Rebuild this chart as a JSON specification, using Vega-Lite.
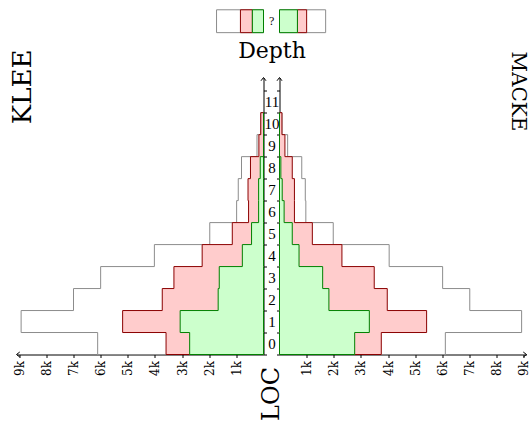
{
  "$schema": "https://vega.github.io/schema/vega-lite/v6.json",
  "background": "white",
  "padding": {"left": 9.5, "top": 8.5, "right": 0, "bottom": 0},
  "config": {
    "view": {"stroke": null},
    "axis": {"zindex": 1, "grid": false, "domainColor": "black", "tickColor": "black", "labelColor": "black", "titleColor": "black", "labelFont": "DejaVu Serif", "titleFont": "DejaVu Serif", "titleFontWeight": "normal", "domainWidth": 1, "tickWidth": 1, "labelFlush": false, "labelOverlap": false}
  },
  "datasets": {
    "loc": [
      {"tool":"KLEE","series":"total","depth":0,"loc":6110},{"tool":"KLEE","series":"total","depth":1,"loc":8930},{"tool":"KLEE","series":"total","depth":2,"loc":7000},{"tool":"KLEE","series":"total","depth":3,"loc":6000},{"tool":"KLEE","series":"total","depth":4,"loc":4020},{"tool":"KLEE","series":"total","depth":5,"loc":1980},{"tool":"KLEE","series":"total","depth":6,"loc":990},{"tool":"KLEE","series":"total","depth":7,"loc":930},{"tool":"KLEE","series":"total","depth":8,"loc":810},{"tool":"KLEE","series":"total","depth":9,"loc":240},{"tool":"KLEE","series":"total","depth":10,"loc":100},{"tool":"KLEE","series":"total","depth":11,"loc":0},
      {"tool":"KLEE","series":"part","depth":0,"loc":3590},{"tool":"KLEE","series":"part","depth":1,"loc":5190},{"tool":"KLEE","series":"part","depth":2,"loc":3730},{"tool":"KLEE","series":"part","depth":3,"loc":3300},{"tool":"KLEE","series":"part","depth":4,"loc":2260},{"tool":"KLEE","series":"part","depth":5,"loc":1150},{"tool":"KLEE","series":"part","depth":6,"loc":550},{"tool":"KLEE","series":"part","depth":7,"loc":570},{"tool":"KLEE","series":"part","depth":8,"loc":480},{"tool":"KLEE","series":"part","depth":9,"loc":170},{"tool":"KLEE","series":"part","depth":10,"loc":100},{"tool":"KLEE","series":"part","depth":11,"loc":0},
      {"tool":"KLEE","series":"core","depth":0,"loc":2720},{"tool":"KLEE","series":"core","depth":1,"loc":3070},{"tool":"KLEE","series":"core","depth":2,"loc":1670},{"tool":"KLEE","series":"core","depth":3,"loc":1630},{"tool":"KLEE","series":"core","depth":4,"loc":780},{"tool":"KLEE","series":"core","depth":5,"loc":440},{"tool":"KLEE","series":"core","depth":6,"loc":180},{"tool":"KLEE","series":"core","depth":7,"loc":180},{"tool":"KLEE","series":"core","depth":8,"loc":120},{"tool":"KLEE","series":"core","depth":9,"loc":0},{"tool":"KLEE","series":"core","depth":10,"loc":0},{"tool":"KLEE","series":"core","depth":11,"loc":0},
      {"tool":"MACKE","series":"total","depth":0,"loc":6110},{"tool":"MACKE","series":"total","depth":1,"loc":8920},{"tool":"MACKE","series":"total","depth":2,"loc":7010},{"tool":"MACKE","series":"total","depth":3,"loc":6010},{"tool":"MACKE","series":"total","depth":4,"loc":4040},{"tool":"MACKE","series":"total","depth":5,"loc":1980},{"tool":"MACKE","series":"total","depth":6,"loc":970},{"tool":"MACKE","series":"total","depth":7,"loc":950},{"tool":"MACKE","series":"total","depth":8,"loc":820},{"tool":"MACKE","series":"total","depth":9,"loc":300},{"tool":"MACKE","series":"total","depth":10,"loc":90},{"tool":"MACKE","series":"total","depth":11,"loc":0},
      {"tool":"MACKE","series":"part","depth":0,"loc":3750},{"tool":"MACKE","series":"part","depth":1,"loc":5420},{"tool":"MACKE","series":"part","depth":2,"loc":3970},{"tool":"MACKE","series":"part","depth":3,"loc":3490},{"tool":"MACKE","series":"part","depth":4,"loc":2300},{"tool":"MACKE","series":"part","depth":5,"loc":1210},{"tool":"MACKE","series":"part","depth":6,"loc":550},{"tool":"MACKE","series":"part","depth":7,"loc":550},{"tool":"MACKE","series":"part","depth":8,"loc":470},{"tool":"MACKE","series":"part","depth":9,"loc":200},{"tool":"MACKE","series":"part","depth":10,"loc":90},{"tool":"MACKE","series":"part","depth":11,"loc":0},
      {"tool":"MACKE","series":"core","depth":0,"loc":2770},{"tool":"MACKE","series":"core","depth":1,"loc":3310},{"tool":"MACKE","series":"core","depth":2,"loc":1820},{"tool":"MACKE","series":"core","depth":3,"loc":1590},{"tool":"MACKE","series":"core","depth":4,"loc":720},{"tool":"MACKE","series":"core","depth":5,"loc":470},{"tool":"MACKE","series":"core","depth":6,"loc":170},{"tool":"MACKE","series":"core","depth":7,"loc":100},{"tool":"MACKE","series":"core","depth":8,"loc":50},{"tool":"MACKE","series":"core","depth":9,"loc":0},{"tool":"MACKE","series":"core","depth":10,"loc":0},{"tool":"MACKE","series":"core","depth":11,"loc":0}
    ]
  },
  "spacing": 16,
  "bounds": "flush",
  "hconcat": [
    {
      "width": 247,
      "height": 277,
      "title": {"text": "KLEE", "orient": "left", "anchor": "end", "frame": "group", "font": "DejaVu Serif", "fontSize": 26, "fontWeight": "normal", "color": "black", "baseline": "middle", "offset": -8, "dx": 28, "dy": 28},
      "data": {"name": "loc"},
      "layer": [
        {
          "transform": [{"filter": "datum.tool === 'KLEE' && datum.series === 'total'"}],
          "mark": {"type": "area", "orient": "horizontal", "interpolate": "step-after", "fill": "white", "stroke": "#8c8c8c", "strokeWidth": 1},
          "encoding": {
            "x": {"field": "loc", "type": "quantitative", "stack": null,
              "scale": {"domain": [0, 9100], "reverse": true, "nice": false, "zero": true},
              "axis": {"orient": "bottom", "values": [1000,2000,3000,4000,5000,6000,7000,8000,9000], "tickCount": 30, "format": "~s", "labelAngle": -90, "labelFontSize": 12, "labelPadding": 3, "labelOverlap": false, "labelFlush": false, "tickSize": 3,
                "title": "LOC", "titleAngle": -90, "titleFontSize": 24, "titleX": 255, "titleY": 39, "titleAlign": "center", "titleBaseline": "middle"}},
            "y": {"field": "depth", "type": "quantitative",
              "scale": {"domain": [0, 12.6], "nice": false, "zero": true},
              "axis": {"orient": "right", "values": [0,1,2,3,4,5,6,7,8,9,10,11,12], "tickCount": 30, "format": "d", "labelExpr": "datum.value <= 11 ? datum.label : ''", "labelOffset": -11, "labelAlign": "center", "labelBaseline": "middle", "labelPadding": 5, "labelOverlap": false, "labelFont": "Liberation Serif", "labelFontSize": 15, "tickSize": 3,
                "title": "Depth", "titleAngle": 0, "titleX": 8, "titleY": -27, "titleAlign": "center", "titleBaseline": "middle", "titleFontSize": 22}}
          }
        },
        {
          "transform": [{"filter": "datum.tool === 'KLEE' && datum.series === 'part'"}],
          "mark": {"type": "area", "orient": "horizontal", "interpolate": "step-after", "fill": "#ffcccc", "stroke": "#8b0000", "strokeWidth": 1},
          "encoding": {"x": {"field": "loc", "type": "quantitative", "stack": null}, "y": {"field": "depth", "type": "quantitative"}}
        },
        {
          "transform": [{"filter": "datum.tool === 'KLEE' && datum.series === 'core'"}],
          "mark": {"type": "area", "orient": "horizontal", "interpolate": "step-after", "fill": "#ccffcc", "stroke": "#008000", "strokeWidth": 1},
          "encoding": {"x": {"field": "loc", "type": "quantitative", "stack": null}, "y": {"field": "depth", "type": "quantitative"}}
        },
        {
          "data": {"values": [{}]},
          "mark": {"type": "rect", "fill": "white", "stroke": "#8c8c8c", "strokeWidth": 1},
          "encoding": {"x": {"datum": 0}, "x2": {"datum": 1730}, "y": {"datum": 14.64}, "y2": {"datum": 15.68}}
        },
        {
          "data": {"values": [{}]},
          "mark": {"type": "rect", "fill": "#ffcccc", "stroke": "#8b0000", "strokeWidth": 1},
          "encoding": {"x": {"datum": 410}, "x2": {"datum": 850}, "y": {"datum": 14.64}, "y2": {"datum": 15.68}}
        },
        {
          "data": {"values": [{}]},
          "mark": {"type": "rect", "fill": "#ccffcc", "stroke": "#008000", "strokeWidth": 1},
          "encoding": {"x": {"datum": 0}, "x2": {"datum": 410}, "y": {"datum": 14.64}, "y2": {"datum": 15.68}}
        },
        {
          "data": {"values": [{}]},
          "mark": {"type": "text", "text": "?", "font": "Liberation Serif", "fontSize": 12, "color": "black", "align": "center", "baseline": "middle"},
          "encoding": {"x": {"datum": -300}, "y": {"datum": 15.16}}
        },
        {
          "data": {"values": [{}]},
          "mark": {"type": "point", "shape": "M1.3,-1L0,0L1.3,1", "filled": false, "stroke": "black", "strokeWidth": 1, "size": 25, "opacity": 1},
          "encoding": {"x": {"datum": 9100}, "y": {"datum": 0}}
        },
        {
          "data": {"values": [{}]},
          "mark": {"type": "point", "shape": "M-1,1.3L0,0L1,1.3", "filled": false, "stroke": "black", "strokeWidth": 1, "size": 25, "opacity": 1},
          "encoding": {"x": {"datum": 0}, "y": {"datum": 12.6}}
        }
      ]
    },
    {
      "width": 247,
      "height": 277,
      "title": {"text": "MACKE", "orient": "right", "anchor": "start", "frame": "group", "font": "DejaVu Serif", "fontSize": 20, "fontWeight": "normal", "color": "black", "baseline": "middle", "offset": -8, "dx": -26, "dy": 24},
      "data": {"name": "loc"},
      "layer": [
        {
          "transform": [{"filter": "datum.tool === 'MACKE' && datum.series === 'total'"}],
          "mark": {"type": "area", "orient": "horizontal", "interpolate": "step-after", "fill": "white", "stroke": "#8c8c8c", "strokeWidth": 1},
          "encoding": {
            "x": {"field": "loc", "type": "quantitative", "stack": null,
              "scale": {"domain": [0, 9100], "nice": false, "zero": true},
              "axis": {"orient": "bottom", "values": [1000,2000,3000,4000,5000,6000,7000,8000,9000], "tickCount": 30, "format": "~s", "labelAngle": -90, "labelFontSize": 12, "labelPadding": 3, "labelOverlap": false, "labelFlush": false, "tickSize": 3, "title": null}},
            "y": {"field": "depth", "type": "quantitative",
              "scale": {"domain": [0, 12.6], "nice": false, "zero": true},
              "axis": {"orient": "left", "values": [0,1,2,3,4,5,6,7,8,9,10,11,12], "tickCount": 30, "labels": false, "tickSize": 3, "title": null}}
          }
        },
        {
          "transform": [{"filter": "datum.tool === 'MACKE' && datum.series === 'part'"}],
          "mark": {"type": "area", "orient": "horizontal", "interpolate": "step-after", "fill": "#ffcccc", "stroke": "#8b0000", "strokeWidth": 1},
          "encoding": {"x": {"field": "loc", "type": "quantitative", "stack": null}, "y": {"field": "depth", "type": "quantitative"}}
        },
        {
          "transform": [{"filter": "datum.tool === 'MACKE' && datum.series === 'core'"}],
          "mark": {"type": "area", "orient": "horizontal", "interpolate": "step-after", "fill": "#ccffcc", "stroke": "#008000", "strokeWidth": 1},
          "encoding": {"x": {"field": "loc", "type": "quantitative", "stack": null}, "y": {"field": "depth", "type": "quantitative"}}
        },
        {
          "data": {"values": [{}]},
          "mark": {"type": "rect", "fill": "white", "stroke": "#8c8c8c", "strokeWidth": 1},
          "encoding": {"x": {"datum": 0}, "x2": {"datum": 1700}, "y": {"datum": 14.64}, "y2": {"datum": 15.68}}
        },
        {
          "data": {"values": [{}]},
          "mark": {"type": "rect", "fill": "#ffcccc", "stroke": "#8b0000", "strokeWidth": 1},
          "encoding": {"x": {"datum": 660}, "x2": {"datum": 1000}, "y": {"datum": 14.64}, "y2": {"datum": 15.68}}
        },
        {
          "data": {"values": [{}]},
          "mark": {"type": "rect", "fill": "#ccffcc", "stroke": "#008000", "strokeWidth": 1},
          "encoding": {"x": {"datum": 0}, "x2": {"datum": 660}, "y": {"datum": 14.64}, "y2": {"datum": 15.68}}
        },
        {
          "data": {"values": [{}]},
          "mark": {"type": "point", "shape": "M-1.3,-1L0,0L-1.3,1", "filled": false, "stroke": "black", "strokeWidth": 1, "size": 25, "opacity": 1},
          "encoding": {"x": {"datum": 9100}, "y": {"datum": 0}}
        },
        {
          "data": {"values": [{}]},
          "mark": {"type": "point", "shape": "M-1,1.3L0,0L1,1.3", "filled": false, "stroke": "black", "strokeWidth": 1, "size": 25, "opacity": 1},
          "encoding": {"x": {"datum": 0}, "y": {"datum": 12.6}}
        }
      ]
    }
  ]
}
